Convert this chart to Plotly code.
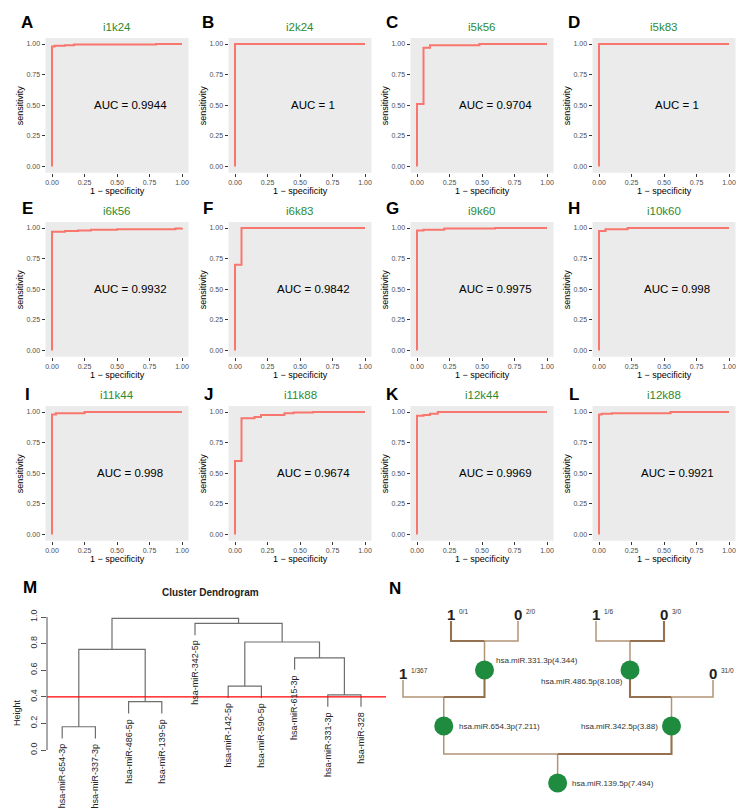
import plotly.graph_objects as go

W, H = 744, 810
FONT = "Liberation Sans, Arial, Helvetica, sans-serif"

# ---------------- ROC data ----------------
roc_titles = ["i1k24", "i2k24", "i5k56", "i5k83", "i6k56", "i6k83",
              "i9k60", "i10k60", "i11k44", "i11k88", "i12k44", "i12k88"]
roc_letters = list("ABCDEFGHIJKL")
roc_auc = [0.9944, 1, 0.9704, 1, 0.9932, 0.9842, 0.9975, 0.998, 0.998, 0.9674, 0.9969, 0.9921]

fpr_i1k24 = [0, 0, 0.02, 0.10, 0.17, 0.80, 1.0]
tpr_i1k24 = [0, 0.98, 0.985, 0.99, 0.995, 1.0, 1.0]
fpr_i2k24 = [0, 0, 1.0]
tpr_i2k24 = [0, 1.0, 1.0]
fpr_i5k56 = [0, 0, 0.05, 0.10, 0.48, 1.0]
tpr_i5k56 = [0, 0.51, 0.97, 0.99, 1.0, 1.0]
fpr_i5k83 = [0, 0, 1.0]
tpr_i5k83 = [0, 1.0, 1.0]
fpr_i6k56 = [0, 0, 0.10, 0.20, 0.30, 0.50, 0.95, 1.0]
tpr_i6k56 = [0, 0.97, 0.975, 0.98, 0.985, 0.99, 0.995, 1.0]
fpr_i6k83 = [0, 0, 0.05, 1.0]
tpr_i6k83 = [0, 0.70, 1.0, 1.0]
fpr_i9k60 = [0, 0, 0.05, 0.21, 0.60, 1.0]
tpr_i9k60 = [0, 0.98, 0.985, 0.995, 1.0, 1.0]
fpr_i10k60 = [0, 0, 0.05, 0.22, 1.0]
tpr_i10k60 = [0, 0.975, 0.99, 1.0, 1.0]
fpr_i11k44 = [0, 0, 0.03, 0.25, 1.0]
tpr_i11k44 = [0, 0.98, 0.99, 1.0, 1.0]
fpr_i11k88 = [0, 0, 0.05, 0.15, 0.20, 0.38, 0.45, 0.60, 1.0]
tpr_i11k88 = [0, 0.60, 0.95, 0.96, 0.975, 0.99, 0.995, 1.0, 1.0]
fpr_i12k44 = [0, 0, 0.05, 0.10, 0.16, 1.0]
tpr_i12k44 = [0, 0.97, 0.975, 0.985, 1.0, 1.0]
fpr_i12k88 = [0, 0, 0.02, 0.10, 0.55, 1.0]
tpr_i12k88 = [0, 0.98, 0.985, 0.99, 1.0, 1.0]

roc_fpr = [fpr_i1k24, fpr_i2k24, fpr_i5k56, fpr_i5k83, fpr_i6k56, fpr_i6k83,
           fpr_i9k60, fpr_i10k60, fpr_i11k44, fpr_i11k88, fpr_i12k44, fpr_i12k88]
roc_tpr = [tpr_i1k24, tpr_i2k24, tpr_i5k56, tpr_i5k83, tpr_i6k56, tpr_i6k83,
           tpr_i9k60, tpr_i10k60, tpr_i11k44, tpr_i11k88, tpr_i12k44, tpr_i12k88]
roc_ticks = [0, 0.25, 0.5, 0.75, 1.0]
roc_ticktext = ["0.00", "0.25", "0.50", "0.75", "1.00"]

# ---------------- Dendrogram data ----------------
dend_labels = ["hsa-miR-654-3p", "hsa-miR-337-3p", "hsa-miR-486-5p", "hsa-miR-139-5p",
               "hsa-miR-342-5p", "hsa-miR-142-5p", "hsa-miR-590-5p", "hsa-miR-615-3p",
               "hsa-miR-331-3p", "hsa-miR-328"]
merge_left = [-1, -3, -9, -6, -8, 1, 4, -5, 6]
merge_right = [-2, -4, -10, -7, 3, 2, 5, 7, 8]
merge_height = [0.175, 0.363, 0.414, 0.481, 0.692, 0.757, 0.812, 0.952, 0.990]
cut_height = 0.4
dend_ticks = [0, 0.2, 0.4, 0.6, 0.8, 1.0]
dend_ticktext = ["0.0", "0.2", "0.4", "0.6", "0.8", "1.0"]

# ---------------- Decision tree data ----------------
tree_vars = ["hsa.miR.139.5p", "hsa.miR.654.3p", "hsa.miR.342.5p", "hsa.miR.331.3p", "hsa.miR.486.5p"]
tree_splits = [7.494, 7.211, 3.88, 4.344, 8.108]
leaf_class = ["1", "1", "0", "1", "0", "0"]
leaf_ratio = ["1/367", "0/1", "2/0", "1/6", "3/0", "31/0"]
tree_children = {0: (1, 2), 1: ("L0", 3), 3: ("L1", "L2"), 2: (4, "L5"), 4: ("L3", "L4")}


def px(x):
    return x / W


def py(y):
    return 1 - y / H


fig = go.Figure()
layout = dict(width=W, height=H, autosize=False, margin=dict(l=0, r=0, t=0, b=0),
              showlegend=False, paper_bgcolor="white", plot_bgcolor="white",
              font=dict(family=FONT, color="black"))
annotations = []
shapes = []

# ---------------- ROC panels ----------------
col_x0 = [44, 227, 409, 591]
row_y1 = [36, 220, 404]
SX, SY = 130, 122.5
col_letter_x = [19, 200, 384, 566]
row_letter_y = [15, 201, 386]

for i in range(12):
    r, c = divmod(i, 4)
    ax = "" if i == 0 else str(i + 1)
    x0 = col_x0[c]
    y1 = row_y1[r]
    left, right = x0 - 0.05 * SX, x0 + 1.05 * SX
    top, bottom = y1 - 0.05 * SY, y1 + 1.05 * SY
    common = dict(range=[-0.05, 1.05], tickvals=roc_ticks, ticktext=roc_ticktext,
                  ticks="outside", ticklen=3, tickcolor="#333333", tickwidth=1,
                  tickfont=dict(size=7, color="#4d4d4d", family=FONT),
                  showgrid=False, zeroline=False, showline=False, fixedrange=True)
    layout["xaxis" + ax] = dict(domain=[px(left), px(right)], anchor="y" + ax, **common)
    layout["yaxis" + ax] = dict(domain=[py(bottom), py(top)], anchor="x" + ax, **common)
    shapes.append(dict(type="rect", xref=f"x{ax} domain", yref=f"y{ax} domain",
                       x0=0, x1=1, y0=0, y1=1, fillcolor="#EBEBEB",
                       line=dict(width=0), layer="below"))
    fig.add_trace(go.Scatter(x=roc_fpr[i], y=roc_tpr[i], mode="lines",
                             line=dict(color="#F8766D", width=2, shape="hv"),
                             xaxis="x" + ax, yaxis="y" + ax, hoverinfo="skip"))
    annotations += [
        dict(x=px((left + right) / 2), y=py(top - 11), xref="paper", yref="paper",
             text=roc_titles[i], showarrow=False, xanchor="center", yanchor="middle",
             font=dict(size=11.5, color="#2E8B2E")),
        dict(x=px(col_letter_x[c]), y=py(row_letter_y[r]), xref="paper", yref="paper",
             text=f"<b>{roc_letters[i]}</b>", showarrow=False, xanchor="center",
             yanchor="middle", font=dict(size=17, color="black")),
        dict(x=0.6, y=0.5, xref="x" + ax, yref="y" + ax, text=f"AUC = {roc_auc[i]:g}",
             showarrow=False, xanchor="center", yanchor="middle",
             font=dict(size=11.5, color="black")),
        dict(x=px(x0 + 0.5 * SX), y=py(bottom + 18.5), xref="paper", yref="paper",
             text="1 \u2212 specificity", showarrow=False, xanchor="center",
             yanchor="middle", font=dict(size=9, color="black")),
        dict(x=px(x0 - 32), y=py(y1 + 0.5 * SY), xref="paper", yref="paper",
             text="sensitivity", textangle=-90, showarrow=False, xanchor="center",
             yanchor="middle", font=dict(size=9, color="black")),
    ]

# ---------------- M: Cluster dendrogram ----------------
LEAF0, LEAFD = 21, 33.2
H0, HS = 742, 133
layout["xaxis13"] = dict(domain=[px(39), px(380)],
                         range=[(39 - LEAF0) / LEAFD, (380 - LEAF0) / LEAFD],
                         anchor="y13", visible=False, fixedrange=True)
layout["yaxis13"] = dict(domain=[py(808), py(598)],
                         range=[(H0 - 808) / HS, (H0 - 598) / HS], anchor="x13",
                         tickvals=dend_ticks, ticktext=dend_ticktext, tickangle=-90,
                         ticks="outside", ticklen=5, tickcolor="#555555",
                         tickfont=dict(size=9, color="#333333", family=FONT),
                         showgrid=False, zeroline=False, showline=False, fixedrange=True)

n_leaves = len(dend_labels)
leaf_pos = list(range(1, n_leaves + 1))
hang = 0.09 * max(merge_height)
node_x, node_h, leaf_end = {}, {}, {}
dx, dy = [], []


def child_pos(cid, h):
    if cid < 0:
        leaf_end[-cid - 1] = h - hang
        return leaf_pos[-cid - 1], h - hang
    return node_x[cid], node_h[cid]


for k, (a, b, h) in enumerate(zip(merge_left, merge_right, merge_height), start=1):
    xa, ya = child_pos(a, h)
    xb, yb = child_pos(b, h)
    dx += [xa, xa, xb, xb, None]
    dy += [ya, h, h, yb, None]
    node_x[k] = (xa + xb) / 2
    node_h[k] = h

fig.add_trace(go.Scatter(x=dx, y=dy, mode="lines", line=dict(color="#6e6e6e", width=1.2),
                         xaxis="x13", yaxis="y13", hoverinfo="skip"))
for i, lab in enumerate(dend_labels):
    annotations.append(dict(x=leaf_pos[i], y=leaf_end[i], xref="x13", yref="y13",
                            text=lab, textangle=-90, showarrow=False, xanchor="center",
                            yanchor="top", yshift=-3, font=dict(size=9, color="#222222")))
shapes.append(dict(type="line", xref="x13 domain", yref="y13", x0=0, x1=0, y0=0, y1=1,
                   line=dict(color="#555555", width=1)))
shapes.append(dict(type="line", xref="x13 domain", yref="y13", x0=0,
                   x1=(378 - 39) / (380 - 39), y0=cut_height, y1=cut_height,
                   line=dict(color="#FF0000", width=1.3)))
annotations += [
    dict(x=px(203), y=py(584), xref="paper", yref="paper", text="<b>Cluster Dendrogram</b>",
         showarrow=False, xanchor="center", yanchor="middle", font=dict(size=10, color="#222")),
    dict(x=px(22), y=py(579), xref="paper", yref="paper", text="<b>M</b>", showarrow=False,
         xanchor="center", yanchor="middle", font=dict(size=17, color="black")),
    dict(x=px(9), y=py(705), xref="paper", yref="paper", text="Height", textangle=-90,
         showarrow=False, xanchor="center", yanchor="middle", font=dict(size=9, color="#222")),
]

# ---------------- N: Decision tree ----------------
layout["xaxis14"] = dict(domain=[px(380), 1], range=[380, 744], anchor="y14",
                         visible=False, fixedrange=True)
layout["yaxis14"] = dict(domain=[0, py(560)], range=[810, 560], anchor="x14",
                         visible=False, fixedrange=True)

leaf_px = [395, 443, 510, 588, 656, 705]
node_level_y = [775, 718, 662]
leaf_level_y = {2: 665, 3: 606}
heavy = {(1, 3), (3, "L1"), (0, 2), (2, 4), (4, "L4")}
pos = {}


def place(node, depth):
    if isinstance(node, str):
        k = int(node[1:])
        pos[node] = (leaf_px[k], leaf_level_y[depth])
        return pos[node][0]
    a, b = tree_children[node]
    xa = place(a, depth + 1)
    xb = place(b, depth + 1)
    pos[node] = ((xa + xb) / 2, node_level_y[depth])
    return pos[node][0]


place(0, 0)
thin_x, thin_y, thick_x, thick_y = [], [], [], []
for p, kids in tree_children.items():
    x, y = pos[p]
    bar = y - 29
    thin_x += [x, x, None]
    thin_y += [y, bar, None]
    for ch in kids:
        cx, cy = pos[ch]
        topy = cy + 7 if isinstance(ch, str) else cy
        if (p, ch) in heavy:
            thick_x += [x, cx, cx, None]
            thick_y += [bar, bar, topy, None]
        else:
            thin_x += [x, cx, cx, None]
            thin_y += [bar, bar, topy, None]

fig.add_trace(go.Scatter(x=thin_x, y=thin_y, mode="lines", line=dict(color="#b39475", width=1.5),
                         xaxis="x14", yaxis="y14", hoverinfo="skip"))
fig.add_trace(go.Scatter(x=thick_x, y=thick_y, mode="lines", line=dict(color="#94714f", width=2.1),
                         xaxis="x14", yaxis="y14", hoverinfo="skip"))
nodes = list(range(len(tree_vars)))
fig.add_trace(go.Scatter(x=[pos[n][0] for n in nodes], y=[pos[n][1] for n in nodes],
                         mode="markers", marker=dict(size=19, color="#1f8b3f"),
                         xaxis="x14", yaxis="y14", hoverinfo="skip"))
label_offset = {0: (12, 0, "left"), 1: (13, 0, "left"), 2: (-12, 0, "right"),
                3: (9, -10, "left"), 4: (-5, 11.5, "right")}
for n in nodes:
    ox, oy, anc = label_offset[n]
    annotations.append(dict(x=pos[n][0] + ox, y=pos[n][1] + oy, xref="x14", yref="y14",
                            text=f"{tree_vars[n]}({tree_splits[n]:g})", showarrow=False,
                            xanchor=anc, yanchor="middle", font=dict(size=8, color="#333333")))
for k in range(len(leaf_class)):
    lx, ly = pos[f"L{k}"]
    annotations.append(dict(x=lx, y=ly, xref="x14", yref="y14", text=f"<b>{leaf_class[k]}</b>",
                            showarrow=False, xanchor="center", yanchor="middle",
                            font=dict(size=15, color="#222222")))
    annotations.append(dict(x=lx + 6, y=ly - 3, xref="x14", yref="y14", text=leaf_ratio[k],
                            showarrow=False, xanchor="left", yanchor="middle",
                            font=dict(size=6.5, color="#333333")))
annotations.append(dict(x=px(387), y=py(580), xref="paper", yref="paper", text="<b>N</b>",
                        showarrow=False, xanchor="center", yanchor="middle",
                        font=dict(size=17, color="black")))

layout["annotations"] = annotations
layout["shapes"] = shapes
fig.update_layout(**layout)
fig.write_html("out.html")
